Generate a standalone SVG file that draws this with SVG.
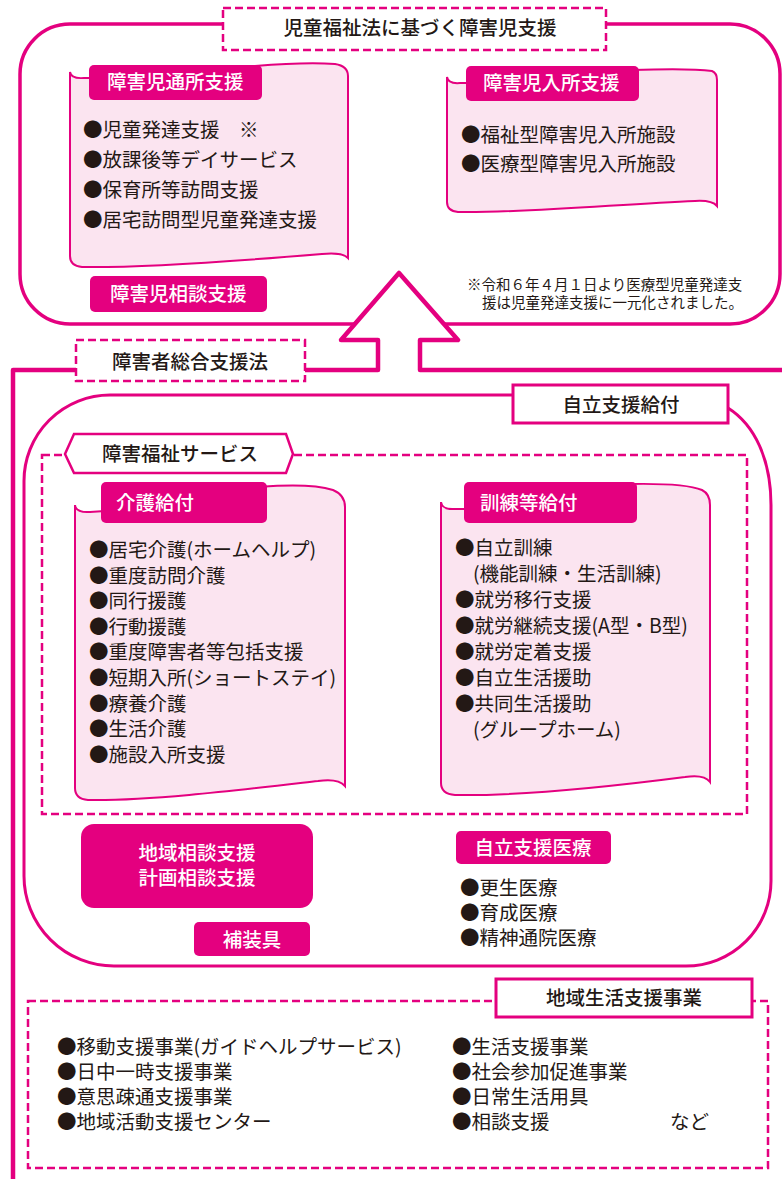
<svg xmlns="http://www.w3.org/2000/svg" width="782" height="1179" viewBox="0 0 782 1179">
<style>
.t{font-family:"Noto Sans CJK JP","Noto Sans CJK SC",sans-serif}
.bt{font-size:19.5px;fill:#231815;font-weight:400}
.tt{font-size:19.5px;fill:#231815;font-weight:500;text-anchor:middle}
.lt{font-size:19.5px;fill:#fff;font-weight:500}
.ltc{font-size:19.5px;fill:#fff;font-weight:500;text-anchor:middle}
.note{font-size:14.5px;fill:#231815}
.doc{fill:#fbe4f0;stroke:#e4007f;stroke-width:2}
.lbl{fill:#e4007f}
.dash{fill:#fff;stroke:#e4007f;stroke-width:2.5;stroke-dasharray:8 4}
.dashn{fill:none;stroke:#e4007f;stroke-width:2.5;stroke-dasharray:8 4}
.line{fill:none;stroke:#e4007f;stroke-linejoin:round}
.solid{fill:#fff;stroke:#e4007f;stroke-width:3}
</style>
<rect width="782" height="1179" fill="#fff"/>

<g id="jidou-frame">
<path class="line" stroke-width="3.5" d="M223,24 L70,24 A50,50 0 0 0 20,74 L20,274 A50,50 0 0 0 70,324 L730,324 A50,50 0 0 0 780,274 L780,74 A50,50 0 0 0 730,24 L606,24"/>
</g>

<g id="connectors">
<polygon fill="#fff" points="378,372 378,340 341,340 399,273 458,340 420,340 420,372"/>
<path class="line" stroke-width="4.5" d="M13,1179 L13,370 L378,370 L378,340 L341,340 L399,273 L458,340 L420,340 L420,370 L782,370"/>
</g>

<g id="title-jidou">
<rect class="dash" x="223" y="8" width="383" height="42"/>
<text class="t tt" x="420" y="35">児童福祉法に基づく障害児支援</text>
</g>

<g id="tsusho">
<path class="doc" d="M70,72 Q71,79 84,78 L95,78 L255,66 Q305,62 335,64 Q348,66 348,76 L348,258 Q342,252 322,254 C250,260 150,268 82,267 Q70,266 70,256 Z"/>
<rect class="lbl" x="89" y="65" width="173" height="35" rx="5"/>
<text class="t lt" x="107" y="89">障害児通所支援</text>
<text class="t bt"><tspan x="83" y="137">●児童発達支援　※</tspan><tspan x="83" y="167">●放課後等デイサービス</tspan><tspan x="83" y="197">●保育所等訪問支援</tspan><tspan x="83" y="227">●居宅訪問型児童発達支援</tspan></text>
</g>

<g id="nyusho">
<path class="doc" d="M447,77 Q448,84 460,83 L470,83 L632,70 Q690,68 712,71 Q717,73 717,80 L717,206 Q712,200 695,201 C620,204 530,213 458,212 Q447,211 447,202 Z"/>
<rect class="lbl" x="466" y="66" width="173" height="35" rx="5"/>
<text class="t lt" x="483" y="90">障害児入所支援</text>
<text class="t bt"><tspan x="461" y="142">●福祉型障害児入所施設</tspan><tspan x="461" y="171">●医療型障害児入所施設</tspan></text>
</g>

<g id="soudan-jidou">
<rect class="lbl" x="90" y="276" width="177" height="36" rx="5"/>
<text class="t lt" x="110" y="301">障害児相談支援</text>
</g>

<g id="note">
<text class="t note"><tspan x="467" y="290">※令和６年４月１日より医療型児童発達支</tspan><tspan x="482" y="308">援は児童発達支援に一元化されました。</tspan></text>
</g>

<g id="title-sougou">
<rect class="dash" x="76" y="340" width="229" height="41"/>
<text class="t tt" x="190" y="369">障害者総合支援法</text>
</g>

<g id="jiritsu-frame">
<path class="line" stroke-width="3" d="M513,395 L110,395 A86,86 0 0 0 24,481 L24,876 A90,90 0 0 0 114,966 L686,966 A85,85 0 0 0 771,881 L771,505 C771,460 755,425 728,408"/>
<rect class="solid" x="513" y="385" width="215" height="38"/>
<text class="t tt" x="621" y="412">自立支援給付</text>
</g>

<g id="fukushi-service">
<rect class="dashn" x="42" y="455" width="705" height="359"/>
<polygon fill="#fff" stroke="#e4007f" stroke-width="2.5" points="65,454 74,434 286,434 293,454 286,473 74,473"/>
<text class="t tt" x="180" y="461">障害福祉サービス</text>
</g>

<g id="kaigo">
<path class="doc" d="M75,505 Q76,513 90,512 L105,511 L260,487 Q310,483 333,490 Q345,495 345,507 L345,786 Q338,778 318,781 C240,790 150,801 88,800 Q75,799 75,788 Z"/>
<rect class="lbl" x="101" y="482" width="166" height="41" rx="5"/>
<text class="t lt" x="116" y="510">介護給付</text>
<text class="t bt"><tspan x="89" y="557">●居宅介護(ホームヘルプ)</tspan><tspan x="89" y="583">●重度訪問介護</tspan><tspan x="89" y="608">●同行援護</tspan><tspan x="89" y="634">●行動援護</tspan><tspan x="89" y="659">●重度障害者等包括支援</tspan><tspan x="89" y="685">●短期入所(ショートステイ)</tspan><tspan x="89" y="711">●療養介護</tspan><tspan x="89" y="736">●生活介護</tspan><tspan x="89" y="762">●施設入所支援</tspan></text>
</g>

<g id="kunren">
<path class="doc" d="M441,502 Q442,510 455,509 L468,509 L630,484 Q685,483 702,490 Q710,494 710,505 L710,782 Q704,774 685,777 C600,788 520,796 455,795 Q441,794 441,783 Z"/>
<rect class="lbl" x="464" y="482" width="173" height="41" rx="5"/>
<text class="t lt" x="480" y="510">訓練等給付</text>
<text class="t bt"><tspan x="455" y="555">●自立訓練</tspan><tspan x="473" y="581">(機能訓練・生活訓練)</tspan><tspan x="455" y="607">●就労移行支援</tspan><tspan x="455" y="633">●就労継続支援(A型・B型)</tspan><tspan x="455" y="659">●就労定着支援</tspan><tspan x="455" y="685">●自立生活援助</tspan><tspan x="455" y="711">●共同生活援助</tspan><tspan x="473" y="737">(グループホーム)</tspan></text>
</g>

<g id="chiiki-soudan">
<rect class="lbl" x="81" y="824" width="232" height="84" rx="13"/>
<text class="t ltc"><tspan x="197" y="860">地域相談支援</tspan><tspan x="197" y="885">計画相談支援</tspan></text>
</g>

<g id="hosougu">
<rect class="lbl" x="194" y="922" width="116" height="34" rx="5"/>
<text class="t ltc" x="252" y="947">補装具</text>
</g>

<g id="iryou">
<rect class="lbl" x="456" y="831" width="155" height="33" rx="5"/>
<text class="t ltc" x="533" y="855">自立支援医療</text>
<text class="t bt"><tspan x="460" y="895">●更生医療</tspan><tspan x="460" y="920">●育成医療</tspan><tspan x="460" y="945">●精神通院医療</tspan></text>
</g>

<g id="chiiki-seikatsu">
<rect class="dashn" x="28" y="1001" width="740" height="167"/>
<rect class="solid" x="496" y="979" width="256" height="38"/>
<text class="t tt" x="624" y="1005">地域生活支援事業</text>
<text class="t bt"><tspan x="57" y="1054">●移動支援事業(ガイドヘルプサービス)</tspan><tspan x="57" y="1079">●日中一時支援事業</tspan><tspan x="57" y="1104">●意思疎通支援事業</tspan><tspan x="57" y="1129">●地域活動支援センター</tspan></text>
<text class="t bt"><tspan x="452" y="1054">●生活支援事業</tspan><tspan x="452" y="1079">●社会参加促進事業</tspan><tspan x="452" y="1104">●日常生活用具</tspan><tspan x="452" y="1129">●相談支援</tspan></text>
<text class="t bt" x="670" y="1129">など</text>
</g>
</svg>
